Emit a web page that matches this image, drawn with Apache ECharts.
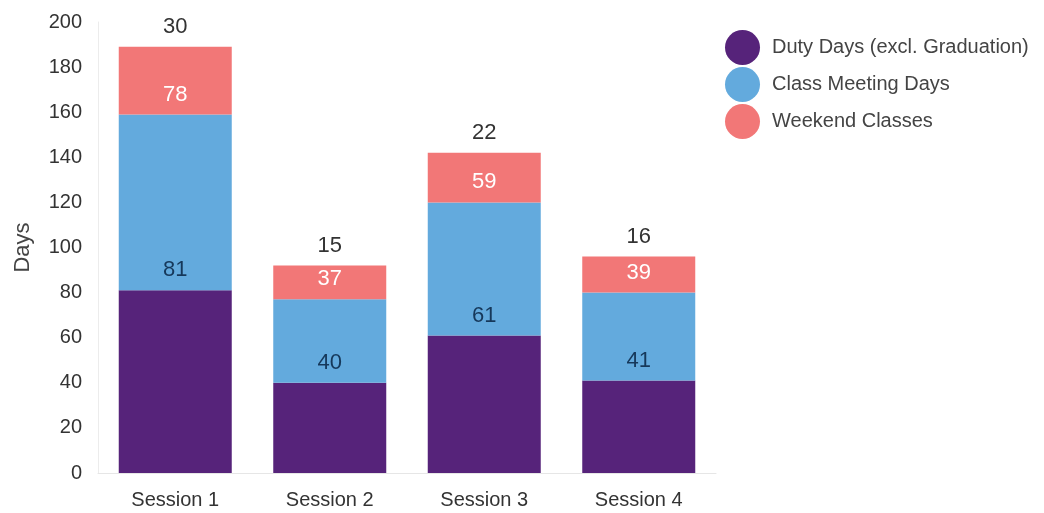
<!DOCTYPE html>
<html>
<head>
<meta charset="utf-8">
<script src="https://cdn.jsdelivr.net/npm/echarts@6/dist/echarts.min.js"></script>
<style>
  html, body { margin: 0; padding: 0; background: #fff; }
  #main { width: 1044px; height: 513px; }
</style>
</head>
<body>
<div id="main"></div>
<script>
// chart data
var sessions = ['Session 1', 'Session 2', 'Session 3', 'Session 4'];
var seriesNames = ['Duty Days (excl. Graduation)', 'Class Meeting Days', 'Weekend Classes'];
var dutyDays = [81, 40, 61, 41];
var classDays = [78, 37, 59, 39];
var weekendDays = [30, 15, 22, 16];
var yTicks = [0, 20, 40, 60, 80, 100, 120, 140, 160, 180, 200];

var colors = ['#56237a', '#63aadd', '#f27777'];
var labelColors = ['#16385a', '#ffffff', '#333333'];
var font = 'Liberation Sans, Arial, sans-serif';

var chart = echarts.init(document.getElementById('main'));

function makeSeries(i, data) {
  return {
    name: seriesNames[i],
    type: 'bar',
    stack: 'total',
    barWidth: 113,
    data: data,
    itemStyle: { color: colors[i] },
    label: {
      show: true,
      position: 'top',
      distance: 9,
      color: labelColors[i],
      fontSize: 22,
      fontFamily: font
    }
  };
}

var option = {
  backgroundColor: '#fff',
  animation: false,
  color: colors,
  legend: {
    orient: 'vertical',
    left: 720,
    top: 25,
    icon: 'circle',
    itemWidth: 35,
    itemHeight: 35,
    itemGap: 2,
    textStyle: { fontSize: 20, color: '#444', fontFamily: font, padding: [0, 0, 0, 7] },
    data: seriesNames
  },
  grid: {
    left: 98,
    right: 328,
    top: 22,
    bottom: 40
  },
  xAxis: {
    type: 'category',
    data: sessions,
    axisLine: { lineStyle: { color: '#e6e6e6' } },
    axisTick: { show: false },
    axisLabel: { fontSize: 20, color: '#333', margin: 17, fontFamily: font }
  },
  yAxis: {
    type: 'value',
    min: yTicks[0],
    max: yTicks[yTicks.length - 1],
    interval: yTicks[1] - yTicks[0],
    name: 'Days',
    nameLocation: 'middle',
    nameGap: 64,
    nameTextStyle: { fontSize: 22, color: '#444', fontFamily: font },
    axisLine: { show: true, lineStyle: { color: '#ececec' } },
    axisTick: { show: false },
    splitLine: { show: false },
    axisLabel: { fontSize: 20, color: '#333', margin: 16, fontFamily: font }
  },
  series: [
    makeSeries(0, dutyDays),
    makeSeries(1, classDays),
    makeSeries(2, weekendDays)
  ]
};

chart.setOption(option);
</script>
</body>
</html>
